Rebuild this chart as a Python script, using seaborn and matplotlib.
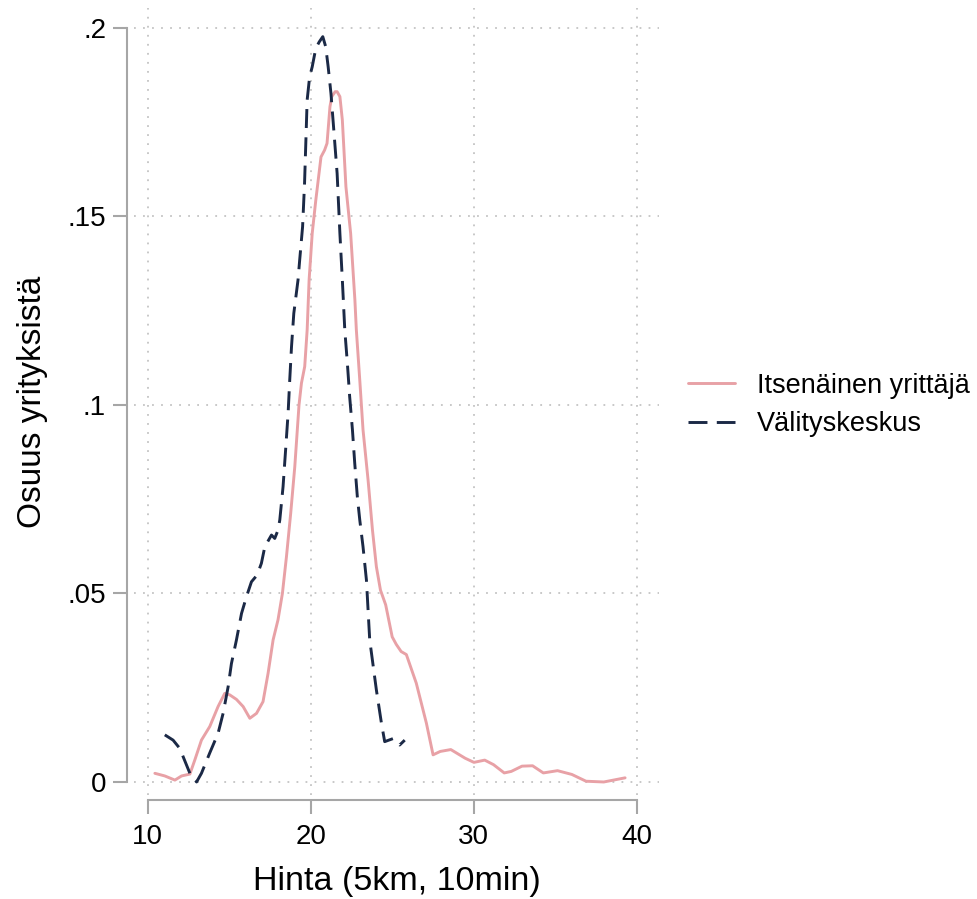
import matplotlib
matplotlib.use("Agg")
import matplotlib.pyplot as plt
import seaborn as sns

# density curves
hinta_itsenainen = [10.43, 11.04, 11.66, 12.07, 12.58, 12.88, 13.29, 13.80, 14.31, 14.72,
                    15.03, 15.44, 15.85, 16.26, 16.67, 17.07, 17.38, 17.69, 17.99, 18.26,
                    18.51, 18.77, 19.02, 19.28, 19.43, 19.63, 19.78, 19.90, 20.09, 20.31,
                    20.63, 20.85, 21.00, 21.18, 21.29, 21.50, 21.62, 21.79, 21.94, 22.16,
                    22.45, 22.71, 22.80, 23.01, 23.21, 23.52, 23.79, 24.03, 24.28, 24.60,
                    25.00, 25.25, 25.55, 25.87, 26.48, 27.10, 27.51, 27.95, 28.60, 29.48,
                    30.02, 30.68, 31.22, 31.88, 32.31, 32.97, 33.62, 34.28, 35.15, 36.03,
                    36.90, 37.99, 39.30]
osuus_itsenainen = [.0023, .0016, .0005, .0016, .0021, .0058, .0111, .0147, .0200, .0235,
                    .0231, .0219, .0200, .0169, .0182, .0213, .0288, .0377, .0430, .0500,
                    .0598, .0713, .0836, .1000, .1058, .1102, .1199, .1332, .1455, .1543,
                    .1658, .1676, .1694, .1791, .1818, .1831, .1831, .1818, .1756, .1579,
                    .1455, .1279, .1199, .1066, .0934, .0801, .0668, .0571, .0509, .0470,
                    .0385, .0365, .0346, .0338, .0262, .0156, .0072, .0081, .0086, .0063,
                    .0052, .0058, .0046, .0024, .0028, .0042, .0043, .0024, .0030, .0020,
                    .0002, .0000, .0011]

hinta_valitys = [11.04, 11.55, 11.96, 12.58, 12.99, 13.29, 13.80, 14.31, 14.62, 14.93,
                 15.13, 15.44, 15.75, 16.05, 16.36, 16.71, 16.97, 17.18, 17.59, 17.79,
                 17.99, 18.10, 18.30, 18.47, 18.61, 18.71, 18.82, 18.96, 19.22, 19.32,
                 19.50, 19.62, 19.78, 19.93, 20.09, 20.31, 20.52, 20.74, 20.92, 21.07,
                 21.24, 21.40, 21.62, 21.79, 21.94, 22.09, 22.25, 22.39, 22.56, 22.70,
                 22.86, 23.01, 23.21, 23.42, 23.62, 24.03, 24.34, 24.54, 25.05, 25.46,
                 25.77]
osuus_valitys = [.0125, .0111, .0089, .0023, .0000, .0023, .0077, .0129, .0182, .0253,
                 .0314, .0377, .0447, .0491, .0531, .0549, .0580, .0624, .0655, .0646,
                 .0668, .0695, .0783, .0889, .0978, .1066, .1155, .1243, .1332, .1384,
                 .1473, .1588, .1809, .1870, .1897, .1946, .1963, .1977, .1950, .1897,
                 .1827, .1738, .1614, .1455, .1332, .1199, .1110, .1022, .0934, .0846,
                 .0757, .0695, .0624, .0535, .0377, .0244, .0156, .0107, .0115, .0098,
                 .0111]

x_ticks = [10, 20, 30, 40]
y_ticks = [0, .05, .1, .15, .2]
y_ticklabels = ["0", ".05", ".1", ".15", ".2"]

sns.set_style("white")
plt.rcParams['font.family'] = ['Liberation Sans', 'DejaVu Sans']
plt.rcParams['text.color'] = 'black'
plt.rcParams['axes.labelcolor'] = 'black'

pink = "#e8a1a6"
navy = "#1b2946"
spine_grey = "#a6a6a6"

fig = plt.figure(figsize=(9.77, 8.99), dpi=100)
ax = fig.add_axes([0.137, 0.1157, 0.538, 0.8754])

sns.lineplot(x=hinta_itsenainen, y=osuus_itsenainen, sort=False, estimator=None,
             color=pink, linewidth=2.1, label="Itsenäinen yrittäjä", ax=ax)
sns.lineplot(x=hinta_valitys, y=osuus_valitys, sort=False, estimator=None,
             color=navy, linewidth=2.1, linestyle=(0, (6.5, 3.2)),
             label="Välityskeskus", ax=ax)

ax.set_xlim(9.14, 41.41)
ax.set_ylim(-0.00345, 0.2053)
ax.set_xticks(x_ticks)
ax.set_yticks(y_ticks)
ax.set_yticklabels(y_ticklabels)

ax.grid(True, color="#c4c4c4", linestyle=(0, (1, 4)), linewidth=1.3)

for side in ["top", "right"]:
    ax.spines[side].set_visible(False)
ax.spines["left"].set_position(("outward", 5))
ax.spines["bottom"].set_position(("outward", 3.6))
ax.spines["left"].set_bounds(0, 0.2)
ax.spines["bottom"].set_bounds(10, 40)
for side in ["left", "bottom"]:
    ax.spines[side].set_color(spine_grey)
    ax.spines[side].set_linewidth(1.5)

ax.tick_params(axis="both", direction="out", length=10, width=1.5,
               color=spine_grey, labelsize=20, labelcolor="black",
               bottom=True, left=True)
ax.tick_params(axis="y", pad=5)
ax.tick_params(axis="x", pad=7)

ax.set_xlabel("Hinta (5km, 10min)", fontsize=24.5, labelpad=12)
ax.set_ylabel("Osuus yrityksistä", fontsize=24, labelpad=14)

ax.legend(loc="center left", bbox_to_anchor=(688 / 977, 1 - 405 / 899),
          bbox_transform=fig.transFigure, frameon=False, fontsize=19.5,
          handlelength=1.75, handletextpad=0.8, labelspacing=0.45,
          borderpad=0, borderaxespad=0)

fig.savefig("out.png", dpi=100)
